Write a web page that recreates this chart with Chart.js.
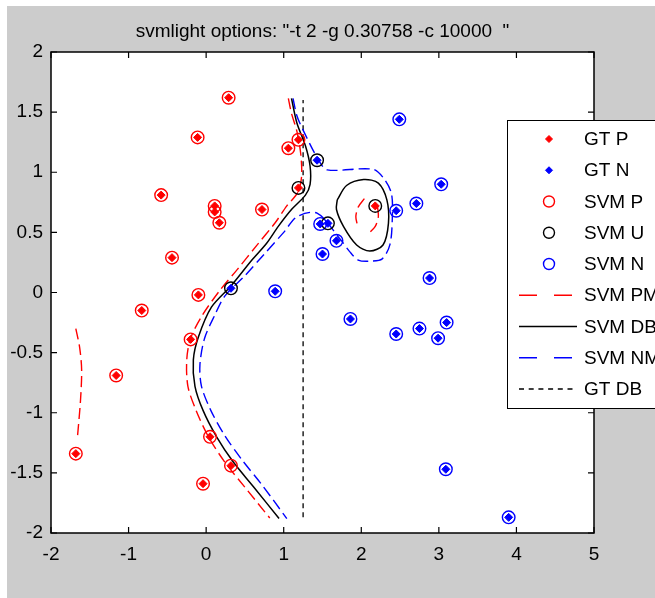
<!DOCTYPE html>
<html><head><meta charset="utf-8">
<script src="https://cdn.jsdelivr.net/npm/chart.js@4.4.1/dist/chart.umd.min.js"></script>
<style>html,body{margin:0;padding:0;background:#fff;overflow:hidden}</style>
</head><body><canvas id="c" width="655" height="598"></canvas>
<script>
// ---------- data ----------
const titleText = 'svmlight options: "-t 2 -g 0.30758 -c 10000  "';
const xTicks = [-2, -1, 0, 1, 2, 3, 4, 5];
const yTicks = [-2, -1.5, -1, -0.5, 0, 0.5, 1, 1.5, 2];
const legendLabels = ['GT P', 'GT N', 'SVM P', 'SVM U', 'SVM N', 'SVM PM', 'SVM DB', 'SVM NM', 'GT DB'];

const gtP = [[0.29,1.62],[-0.11,1.29],[-0.58,0.81],[-0.44,0.29],[0.11,0.72],[0.11,0.67],[0.17,0.58],
  [0.72,0.69],[1.06,1.2],[1.19,1.27],[1.19,0.87],[-0.10,-0.02],[-0.83,-0.15],[-0.2,-0.39],[-1.16,-0.69],
  [0.05,-1.2],[0.32,-1.44],[-0.04,-1.59],[-1.68,-1.34],[2.18,0.72]];
const gtN = [[2.49,1.44],[1.43,1.10],[3.03,0.9],[2.71,0.74],[2.45,0.68],[1.47,0.57],[1.57,0.575],
  [1.68,0.43],[1.5,0.32],[0.32,0.035],[0.89,0.01],[2.88,0.12],[1.86,-0.22],[2.45,-0.345],[2.75,-0.3],
  [2.99,-0.38],[3.1,-0.25],[3.09,-1.47],[3.9,-1.87]];
const svmP = [[0.29,1.62],[-0.11,1.29],[-0.58,0.81],[-0.44,0.29],[0.11,0.72],[0.11,0.67],[0.17,0.58],
  [0.72,0.69],[1.06,1.2],[1.19,1.27],[-0.10,-0.02],[-0.83,-0.15],[-0.2,-0.39],[-1.16,-0.69],
  [0.05,-1.2],[0.32,-1.44],[-0.04,-1.59],[-1.68,-1.34]];
const svmU = [[1.19,0.87],[2.18,0.72],[1.43,1.10],[1.57,0.575],[0.32,0.035]];
const svmN = [[2.49,1.44],[3.03,0.9],[2.71,0.74],[2.45,0.68],[1.47,0.57],
  [1.68,0.43],[1.5,0.32],[0.89,0.01],[2.88,0.12],[1.86,-0.22],[2.45,-0.345],[2.75,-0.3],
  [2.99,-0.38],[3.1,-0.25],[3.09,-1.47],[3.9,-1.87]];

const svmPM = [[1.06,1.615],[1.1,1.49],[1.17,1.34],[1.22,1.15],[1.23,0.96],[1.18,0.83],[1.04,0.72],
  [0.89,0.58],[0.65,0.39],[0.4,0.19],[0.18,0.02],[-0.05,-0.19],[-0.2,-0.38],[-0.25,-0.56],[-0.235,-0.78],
  [-0.13,-0.98],[0.03,-1.2],[0.24,-1.41],[0.5,-1.62],[0.82,-1.875], null,
  [-1.68,-0.30],[-1.63,-0.46],[-1.605,-0.645],[-1.62,-0.9],[-1.66,-1.21], null,
  [2.04,0.78],[1.96,0.71],[1.93,0.63],[1.95,0.56], null,
  [2.21,0.71],[2.22,0.63],[2.18,0.55],[2.11,0.5]];
const svmDB = [[1.10,1.615],[1.17,1.41],[1.28,1.22],[1.34,1.05],[1.34,0.9],[1.28,0.81],[1.1,0.69],
  [0.93,0.55],[0.78,0.41],[0.59,0.27],[0.32,0.055],[0.07,-0.12],[-0.1,-0.37],[-0.165,-0.56],[-0.144,-0.78],
  [-0.04,-0.98],[0.135,-1.2],[0.35,-1.41],[0.61,-1.615],[0.94,-1.88], null,
  [1.69,0.77],[1.81,0.89],[2.03,0.94],[2.22,0.91],[2.33,0.77],[2.35,0.575],[2.28,0.395],[2.11,0.345],
  [1.94,0.395],[1.77,0.55],[1.68,0.69],[1.69,0.77]];
const svmNM = [[1.12,1.615],[1.17,1.47],[1.25,1.35],[1.45,1.1],[1.56,1.02],[2.15,1.025],[2.3,0.94],
  [2.39,0.82],[2.4,0.62],[2.37,0.4],[2.27,0.28],[2.1,0.26],[1.96,0.27],[1.85,0.34],[1.72,0.45],[1.43,0.66],
  [1.17,0.63],[1.0,0.5],[0.75,0.32],[0.5,0.14],[0.24,-0.03],[0.11,-0.19],[-0.02,-0.38],[-0.08,-0.6],
  [-0.06,-0.78],[0.06,-0.98],[0.24,-1.19],[0.46,-1.39],[0.72,-1.6],[1.04,-1.88]];
const gtDB = [[1.25,-1.87],[1.25,1.6]];

// ---------- helpers ----------
function pts(arr){
  let last = 0;
  return arr.map(p => { if (p === null) return {x:last, y:null}; last = p[0]; return {x:p[0], y:p[1]}; });
}
const FONT = '"Liberation Sans", Arial, sans-serif';
const RED = '#ff0000', BLUE = '#0000ff', BLACK = '#000000';

const datasets = [
  {label:'GT P', data:pts(gtP), pointStyle:'rectRot', pointRadius:4, backgroundColor:RED, borderColor:RED, pointBorderWidth:1, showLine:false},
  {label:'GT N', data:pts(gtN), pointStyle:'rectRot', pointRadius:4, backgroundColor:BLUE, borderColor:BLUE, pointBorderWidth:1, showLine:false},
  {label:'SVM P', data:pts(svmP), pointStyle:'circle', pointRadius:6.3, backgroundColor:'rgba(0,0,0,0)', borderColor:RED, pointBorderWidth:1.4, showLine:false},
  {label:'SVM U', data:pts(svmU), pointStyle:'circle', pointRadius:6.3, backgroundColor:'rgba(0,0,0,0)', borderColor:BLACK, pointBorderWidth:1.4, showLine:false},
  {label:'SVM N', data:pts(svmN), pointStyle:'circle', pointRadius:6.3, backgroundColor:'rgba(0,0,0,0)', borderColor:BLUE, pointBorderWidth:1.4, showLine:false},
  {label:'SVM PM', data:pts(svmPM), showLine:true, pointRadius:0, borderColor:RED, borderWidth:1.4, borderDash:[11,5], tension:0.3, spanGaps:false, fill:false},
  {label:'SVM DB', data:pts(svmDB), showLine:true, pointRadius:0, borderColor:BLACK, borderWidth:1.5, tension:0.3, spanGaps:false, fill:false},
  {label:'SVM NM', data:pts(svmNM), showLine:true, pointRadius:0, borderColor:BLUE, borderWidth:1.4, borderDash:[11,5], tension:0.3, spanGaps:false, fill:false},
  {label:'GT DB', data:pts(gtDB), showLine:true, pointRadius:0, borderColor:BLACK, borderWidth:1.3, borderDash:[5,4], tension:0, fill:false}
];

const frame = {
  id:'frame',
  beforeDraw(chart){
    const {ctx, chartArea:a, width:W, height:H} = chart;
    ctx.save();
    ctx.fillStyle = '#ffffff'; ctx.fillRect(0,0,W,H);
    ctx.fillStyle = '#cccccc'; ctx.fillRect(7,6,W-7,H-6);
    ctx.fillStyle = '#ffffff'; ctx.fillRect(a.left,a.top,a.width,a.height);
    ctx.restore();
  },
  afterDatasetsDraw(chart){
    const {ctx, chartArea:a, scales} = chart;
    ctx.save();
    ctx.strokeStyle = '#000'; ctx.lineWidth = 1.5; ctx.setLineDash([]);
    ctx.strokeRect(a.left, a.top, a.width, a.height);
    ctx.lineWidth = 1.2;
    ctx.beginPath();
    xTicks.forEach(v => { const px = scales.x.getPixelForValue(v);
      ctx.moveTo(px, a.bottom); ctx.lineTo(px, a.bottom-6);
      ctx.moveTo(px, a.top); ctx.lineTo(px, a.top+6); });
    yTicks.forEach(v => { const py = scales.y.getPixelForValue(v);
      ctx.moveTo(a.left, py); ctx.lineTo(a.left+6, py);
      ctx.moveTo(a.right, py); ctx.lineTo(a.right-6, py); });
    ctx.stroke();
    ctx.restore();
  },
  afterDraw(chart){
    const {ctx, chartArea:a} = chart;
    ctx.save();
    // title
    ctx.fillStyle = '#000'; ctx.font = '19px ' + FONT;
    ctx.textAlign = 'center'; ctx.textBaseline = 'middle';
    ctx.fillText(titleText, (a.left + a.right)/2, 32);
    // legend
    const lx = 507, ly = 120, lw = 200, lh = 288;
    ctx.fillStyle = '#fff'; ctx.fillRect(lx, ly, lw, lh);
    ctx.strokeStyle = '#000'; ctx.lineWidth = 1; ctx.strokeRect(lx+0.5, ly+0.5, lw, lh);
    datasets.forEach((ds, i) => {
      const y = 139 + i*31.25;
      ctx.save();
      if (ds.showLine) {
        ctx.strokeStyle = ds.borderColor; ctx.lineWidth = ds.borderWidth;
        ctx.setLineDash(ds.borderDash ? (ds.label === 'GT DB' ? [5,4.7] : [18,17]) : []);
        ctx.beginPath(); ctx.moveTo(519, y); ctx.lineTo(577, y); ctx.stroke();
      } else {
        ctx.fillStyle = ds.backgroundColor; ctx.strokeStyle = ds.borderColor;
        ctx.lineWidth = ds.pointBorderWidth;
        Chart.helpers.drawPoint(ctx, {pointStyle: ds.pointStyle, radius: ds.pointStyle === 'circle' ? 5.5 : 3.5, rotation:0, borderWidth: ds.pointBorderWidth}, 549, y);
      }
      ctx.restore();
      ctx.fillStyle = '#000'; ctx.font = '19px ' + FONT;
      ctx.textAlign = 'left'; ctx.textBaseline = 'middle';
      ctx.fillText(legendLabels[i], 584, y + 1);
    });
    ctx.restore();
  }
};

new Chart(document.getElementById('c'), {
  type:'scatter',
  data:{datasets},
  options:{
    responsive:false, animation:false, devicePixelRatio:1,
    layout:{padding:{left:0, top:52, right:61, bottom:20}},
    plugins:{legend:{display:false}, tooltip:{enabled:false}, title:{display:false}},
    scales:{
      x:{type:'linear', min:-2, max:5,
        afterBuildTicks: s => { s.ticks = xTicks.map(v => ({value:v})); },
        afterFit: s => { s.height = 45; },
        grid:{display:false, drawTicks:false}, border:{display:false},
        ticks:{color:'#000', font:{family:FONT, size:19}, padding:10, maxRotation:0, autoSkip:false, callback: v => String(v)}},
      y:{type:'linear', min:-2, max:2,
        afterBuildTicks: s => { s.ticks = yTicks.map(v => ({value:v})); },
        afterFit: s => { s.width = 51; },
        grid:{display:false, drawTicks:false}, border:{display:false},
        ticks:{color:'#000', font:{family:FONT, size:19}, padding:8, autoSkip:false, callback: v => String(v)}}
    }
  },
  plugins:[frame]
});
</script></body></html>
